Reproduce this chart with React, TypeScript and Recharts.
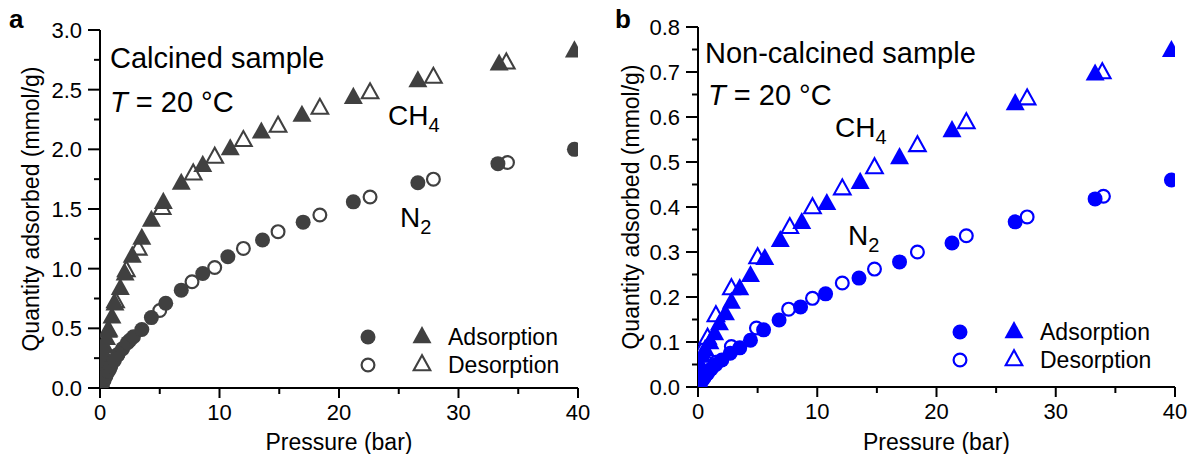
import React from "react"
import { ScatterChart, Scatter, XAxis, YAxis } from "recharts"

// pressure (bar), quantity adsorbed (mmol/g)
const calcinedCH4Ads: [number, number][] = [
  [0.02, 0.03], [0.05, 0.07], [0.1, 0.12], [0.15, 0.17], [0.2, 0.21], [0.3, 0.28],
  [0.4, 0.35], [0.55, 0.42], [0.7, 0.48], [1.0, 0.6], [1.25, 0.71], [1.7, 0.84],
  [2.1, 0.96], [2.7, 1.11], [3.5, 1.26], [4.3, 1.41], [5.3, 1.56], [6.8, 1.72],
  [8.6, 1.87], [10.9, 2.01], [13.5, 2.15], [16.9, 2.29], [21.2, 2.44], [26.6, 2.58],
  [33.4, 2.72], [39.7, 2.83],
]
const calcinedCH4Des: [number, number][] = [
  [0.3, 0.29], [0.7, 0.49], [1.3, 0.73], [2.2, 0.99], [3.2, 1.17], [5.2, 1.51],
  [7.8, 1.8], [9.6, 1.94], [12.0, 2.08], [14.9, 2.2], [18.4, 2.35], [22.6, 2.48],
  [27.9, 2.61], [34.0, 2.73],
]
const calcinedN2Ads: [number, number][] = [
  [0.1, 0.02], [0.2, 0.04], [0.35, 0.07], [0.5, 0.1], [0.7, 0.14], [0.9, 0.18],
  [1.2, 0.23], [1.5, 0.28], [1.9, 0.33], [2.3, 0.38], [2.8, 0.43], [3.5, 0.49],
  [4.3, 0.59], [5.5, 0.71], [6.8, 0.82], [8.6, 0.96], [10.7, 1.1], [13.6, 1.24],
  [17.0, 1.39], [21.2, 1.56], [26.6, 1.72], [33.3, 1.88], [39.7, 2.0],
]
const calcinedN2Des: [number, number][] = [
  [0.3, 0.06], [0.8, 0.16], [1.5, 0.28], [2.5, 0.4], [5.0, 0.65], [7.7, 0.89],
  [9.6, 1.01], [12.0, 1.17], [14.9, 1.31], [18.4, 1.45], [22.6, 1.6], [27.9, 1.75],
  [34.1, 1.89],
]

const nonCalcinedCH4Ads: [number, number][] = [
  [0.05, 0.015], [0.1, 0.03], [0.2, 0.05], [0.35, 0.07], [0.6, 0.085], [1.0, 0.1],
  [1.4, 0.12], [1.8, 0.142], [2.3, 0.164], [2.8, 0.19], [3.5, 0.22], [4.4, 0.249],
  [5.6, 0.287], [6.9, 0.327], [8.7, 0.367], [10.8, 0.409], [13.6, 0.456], [16.9, 0.511],
  [21.3, 0.571], [26.6, 0.631], [33.3, 0.697], [39.7, 0.749],
]
const nonCalcinedCH4Des: [number, number][] = [
  [0.3, 0.08], [0.8, 0.11], [1.5, 0.16], [2.8, 0.22], [5.0, 0.289], [7.7, 0.356],
  [9.6, 0.4], [12.1, 0.442], [14.8, 0.489], [18.4, 0.538], [22.5, 0.589], [27.6, 0.642],
  [33.9, 0.7],
]
const nonCalcinedN2Ads: [number, number][] = [
  [0.1, 0.005], [0.3, 0.012], [0.5, 0.02], [0.8, 0.03], [1.1, 0.04], [1.5, 0.05],
  [2.0, 0.06], [2.7, 0.075], [3.5, 0.087], [4.4, 0.104], [5.5, 0.127], [6.8, 0.149],
  [8.6, 0.178], [10.7, 0.207], [13.5, 0.242], [16.9, 0.278], [21.3, 0.32], [26.6, 0.367],
  [33.3, 0.418], [39.7, 0.46],
]
const nonCalcinedN2Des: [number, number][] = [
  [0.6, 0.025], [1.5, 0.055], [2.8, 0.09], [4.9, 0.131], [7.6, 0.173], [9.6, 0.197],
  [12.1, 0.231], [14.8, 0.262], [18.4, 0.3], [22.5, 0.336], [27.6, 0.378], [34.0, 0.424],
]

const xTicks = [0, 5, 10, 15, 20, 25, 30, 35, 40]
const calcinedYTicks = [0, 0.25, 0.5, 0.75, 1, 1.25, 1.5, 1.75, 2, 2.25, 2.5, 2.75, 3]
const nonCalcinedYTicks = [
  0, 0.05, 0.1, 0.15, 0.2, 0.25, 0.3, 0.35, 0.4, 0.45, 0.5, 0.55, 0.6, 0.65, 0.7, 0.75, 0.8,
]

const GRAY = "#404040"
const BLUE = "#0000ff"
const FONT = "'Liberation Sans', Arial, Helvetica, sans-serif"

const toPoints = (arr: [number, number][]) => arr.map(([p, q]) => ({ p, q }))

const triPath = (cx: number, cy: number, s: number) =>
  `M${cx},${cy - s * 1.05} L${cx - s},${cy + s * 0.75} L${cx + s},${cy + s * 0.75} Z`

const filledCircle = (color: string) => (props: any) =>
  <circle cx={props.cx} cy={props.cy} r={7.5} fill={color} />
const openCircle = (color: string) => (props: any) =>
  <circle cx={props.cx} cy={props.cy} r={6.4} fill="#fff" stroke={color} strokeWidth={2.2} />
const filledTriangle = (color: string) => (props: any) =>
  <path d={triPath(props.cx, props.cy, 9.5)} fill={color} />
const openTriangle = (color: string) => (props: any) =>
  <path d={triPath(props.cx, props.cy, 8.3)} fill="#fff" stroke={color} strokeWidth={2.1} strokeLinejoin="miter" />

const XTick = (props: any) => {
  const { x, y, payload } = props
  const v = payload.value
  const major = v % 10 === 0
  const axisY = y - 16
  return (
    <g>
      <line x1={x} x2={x} y1={axisY} y2={axisY + (major ? 10 : 6)} stroke="#000" strokeWidth={2} />
      {major && (
        <text x={x} y={y} dy="0.71em" textAnchor="middle" fontSize={22} fontFamily={FONT} fill="#000">
          {v}
        </text>
      )}
    </g>
  )
}

const makeYTick = (step: number) => (props: any) => {
  const { x, y, payload } = props
  const v = payload.value
  const r = v / step
  const major = Math.abs(r - Math.round(r)) < 1e-6
  const axisX = x + 16
  return (
    <g>
      <line x1={axisX - (major ? 12 : 6)} x2={axisX} y1={y} y2={y} stroke="#000" strokeWidth={2} />
      {major && (
        <text x={axisX - 18} y={y} dy="0.36em" textAnchor="end" fontSize={22} fontFamily={FONT} fill="#000">
          {v.toFixed(1)}
        </text>
      )}
    </g>
  )
}

const xLabel = (props: any) => {
  const vb = props.viewBox
  return (
    <text x={vb.x + vb.width / 2} y={vb.y + vb.height - 4} textAnchor="middle" fontSize={23} fontFamily={FONT} fill="#000">
      Pressure (bar)
    </text>
  )
}

const yLabel = (props: any) => {
  const vb = props.viewBox
  const cy = vb.y + vb.height / 2
  return (
    <text transform={`translate(${vb.x + 39}, ${cy}) rotate(-90)`} textAnchor="middle" fontSize={23} fontFamily={FONT} fill="#000">
      Quantity adsorbed (mmol/g)
    </text>
  )
}

interface PanelProps {
  color: string
  yMax: number
  yTicks: number[]
  yStep: number
  ch4Ads: [number, number][]
  ch4Des: [number, number][]
  n2Ads: [number, number][]
  n2Des: [number, number][]
  width: number
  margin: { top: number; right: number; bottom: number; left: number }
  yAxisWidth: number
  xAxisHeight: number
}

function Panel(p: PanelProps) {
  const axisLine = { stroke: "#000", strokeWidth: 2 }
  return (
    <ScatterChart width={p.width} height={454} margin={p.margin}>
      <XAxis
        type="number"
        dataKey="p"
        domain={[0, 40]}
        ticks={xTicks}
        interval={0}
        tickSize={12}
        tickMargin={4}
        tickLine={false}
        tick={<XTick />}
        axisLine={axisLine}
        height={p.xAxisHeight}
        label={{ content: xLabel }}
        allowDataOverflow
      />
      <XAxis xAxisId="top" orientation="top" type="number" domain={[0, 40]} height={0} tick={false} tickLine={false} axisLine={axisLine} />
      <YAxis
        type="number"
        dataKey="q"
        domain={[0, p.yMax]}
        ticks={p.yTicks}
        interval={0}
        tickSize={12}
        tickMargin={4}
        tickLine={false}
        tick={makeYTick(p.yStep)}
        axisLine={axisLine}
        width={p.yAxisWidth}
        label={{ content: yLabel }}
        allowDataOverflow
      />
      <YAxis yAxisId="right" orientation="right" type="number" domain={[0, p.yMax]} width={0} tick={false} tickLine={false} axisLine={axisLine} />
      <Scatter data={toPoints(p.ch4Des)} shape={openTriangle(p.color)} isAnimationActive={false} />
      <Scatter data={toPoints(p.n2Des)} shape={openCircle(p.color)} isAnimationActive={false} />
      <Scatter data={toPoints(p.ch4Ads)} shape={filledTriangle(p.color)} isAnimationActive={false} />
      <Scatter data={toPoints(p.n2Ads)} shape={filledCircle(p.color)} isAnimationActive={false} />
    </ScatterChart>
  )
}

function LegendBox({ x, y, color }: { x: number; y: number; color: string }) {
  // x,y: centre of the first (adsorption) circle
  const row2 = y + 28
  return (
    <g>
      <circle cx={x} cy={y} r={7.5} fill={color} />
      <path d={triPath(x + 54, y - 1, 9.5)} fill={color} />
      <text x={x + 80} y={y + 8} fontSize={23} fill="#000">Adsorption</text>
      <circle cx={x} cy={row2} r={6.4} fill="#fff" stroke={color} strokeWidth={2.2} />
      <path d={triPath(x + 54, row2 - 1, 8.3)} fill="#fff" stroke={color} strokeWidth={2.1} />
      <text x={x + 80} y={row2 + 8} fontSize={23} fill="#000">Desorption</text>
    </g>
  )
}

export default function App() {
  return (
    <div style={{ position: "absolute", left: 0, top: 0, width: 1192, height: 454, background: "#fff", fontFamily: FONT }}>
      <div style={{ position: "absolute", left: 0, top: 0 }}>
        <Panel
          color={GRAY}
          yMax={3}
          yTicks={calcinedYTicks}
          yStep={0.5}
          ch4Ads={calcinedCH4Ads}
          ch4Des={calcinedCH4Des}
          n2Ads={calcinedN2Ads}
          n2Des={calcinedN2Des}
          width={600}
          margin={{ top: 30, right: 22, bottom: 0, left: 0 }}
          yAxisWidth={100}
          xAxisHeight={66}
        />
      </div>
      <div style={{ position: "absolute", left: 600, top: 0 }}>
        <Panel
          color={BLUE}
          yMax={0.8}
          yTicks={nonCalcinedYTicks}
          yStep={0.1}
          ch4Ads={nonCalcinedCH4Ads}
          ch4Des={nonCalcinedCH4Des}
          n2Ads={nonCalcinedN2Ads}
          n2Des={nonCalcinedN2Des}
          width={592}
          margin={{ top: 27, right: 17, bottom: 0, left: 0 }}
          yAxisWidth={98}
          xAxisHeight={67}
        />
      </div>
      <svg width={1192} height={454} style={{ position: "absolute", left: 0, top: 0, pointerEvents: "none" }} fontFamily={FONT}>
        <text x={9} y={28} fontSize={26} fontWeight="bold" fill="#000">a</text>
        <text x={615} y={28} fontSize={26} fontWeight="bold" fill="#000">b</text>

        <text x={110} y={68} fontSize={29} fill="#000">Calcined sample</text>
        <text x={110} y={112} fontSize={29} fill="#000">
          <tspan fontStyle="italic">T</tspan> = 20 °C
        </text>
        <text x={388} y={125} fontSize={28} fill="#000">
          CH<tspan fontSize={20} dy={7}>4</tspan>
        </text>
        <text x={400} y={227} fontSize={28} fill="#000">
          N<tspan fontSize={20} dy={7}>2</tspan>
        </text>
        <LegendBox x={368} y={337} color={GRAY} />

        <text x={705} y={63} fontSize={29} fill="#000">Non-calcined sample</text>
        <text x={708} y={105} fontSize={29} fill="#000">
          <tspan fontStyle="italic">T</tspan> = 20 °C
        </text>
        <text x={835} y={137} fontSize={28} fill="#000">
          CH<tspan fontSize={20} dy={7}>4</tspan>
        </text>
        <text x={848} y={245} fontSize={28} fill="#000">
          N<tspan fontSize={20} dy={7}>2</tspan>
        </text>
        <LegendBox x={960} y={332} color={BLUE} />
      </svg>
    </div>
  )
}
